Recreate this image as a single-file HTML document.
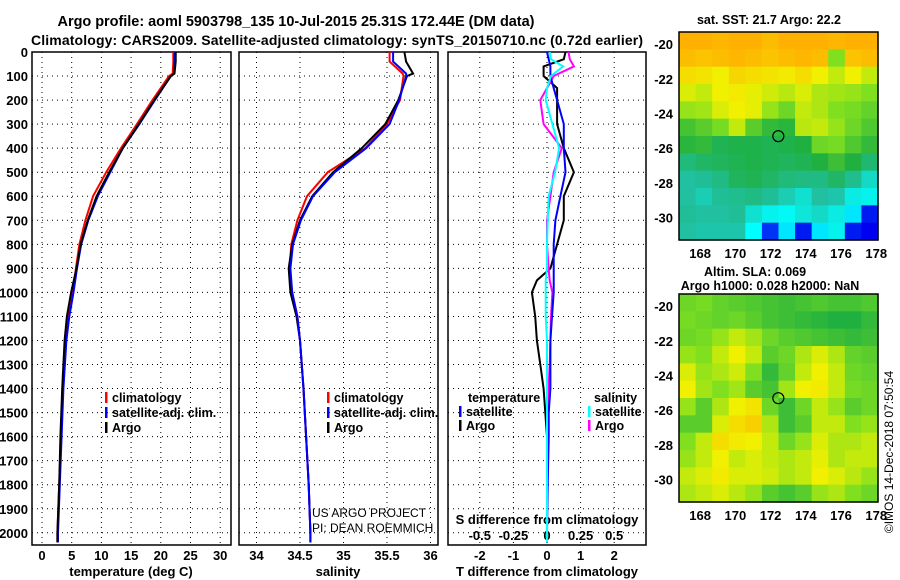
<!DOCTYPE html>
<html><head><meta charset="utf-8"><style>
body{margin:0;background:#fff}
svg{display:block;font-family:"Liberation Sans",sans-serif;font-weight:bold}
</style></head><body>
<svg id="c" width="900" height="580" viewBox="0 0 900 580">
<text x="296" y="26" font-size="14.5" text-anchor="middle" textLength="477">Argo profile: aoml 5903798_135 10-Jul-2015 25.31S 172.44E (DM data)</text>
<text x="337" y="45" font-size="14" text-anchor="middle" textLength="612">Climatology: CARS2009. Satellite-adjusted climatology: synTS_20150710.nc (0.72d earlier)</text>
<g id="g"></g>
</svg>
<script>
// ---- data ----
const depthTicks=[0,100,200,300,400,500,600,700,800,900,1000,1100,1200,1300,1400,1500,1600,1700,1800,1900,2000];
const tempTicks=[0,5,10,15,20,25,30];
const salTicks=[34,34.5,35,35.5,36];
const salTickLabels=["34","34.5","35","35.5","36"];
const tdTicks=[-2,-1,0,1,2];
const sdTicks=[-0.5,-0.25,0,0.25,0.5];
const sdTickLabels=["-0.5","-0.25","0","0.25","0.5"];
const profDepth=[0,40,90,100,200,300,400,500,600,700,800,900,1000,1100,1200,1400,1600,1800,2000,2040];
const tempArgo=[22.5,22.5,22.3,21.7,18.9,16.3,13.6,11.3,9.2,7.7,6.5,5.8,4.9,4.2,3.8,3.4,3.1,2.9,2.6,2.6];
const tempClim=[22.1,22.1,22.0,21.4,18.6,16.0,13.3,10.8,8.6,7.3,6.3,5.7,5.2,4.5,4.0,3.5,3.2,2.9,2.6,2.6];
const tempSat=[22.3,22.3,22.2,21.7,19.0,16.4,13.6,11.5,9.4,7.8,6.6,5.9,5.3,4.6,4.1,3.6,3.3,3.0,2.7,2.7];
const salArgo=[35.70,35.72,35.80,35.73,35.63,35.48,35.21,34.88,34.64,34.50,34.41,34.37,34.39,34.46,34.50,34.54,34.57,34.60,34.62,34.62];
const salClim=[35.53,35.53,35.68,35.69,35.65,35.50,35.25,34.82,34.58,34.47,34.40,34.38,34.41,34.47,34.50,34.54,34.57,34.60,34.62,34.62];
const salSat=[35.57,35.57,35.72,35.72,35.64,35.53,35.26,34.90,34.65,34.51,34.42,34.39,34.41,34.47,34.50,34.54,34.57,34.60,34.62,34.62];
const diffDepth=[0,30,60,100,150,200,300,400,500,600,700,800,900,950,1000,1100,1200,1300,1400,1500,1600,1800,2000,2040];
const tdArgo=[0.55,0.5,-0.1,-0.1,0.3,0.3,0.3,0.5,0.8,0.5,0.5,0.3,0.1,-0.3,-0.45,-0.35,-0.3,-0.2,-0.1,-0.05,0,null,null,null];
const tdSat=[0,0.05,0.1,0.1,0.2,0.3,0.5,0.5,0.55,0.4,0.25,0.2,0.2,0.2,0.2,0.15,0.1,0.1,0.1,0.05,0.05,0.02,0,0];
const sdArgo=[0.16,0.17,0.2,0.05,0.0,-0.05,-0.025,0.11,0.05,0.025,0.0,0.0,0.012,0.02,0.04,0.03,0.025,0.02,0.012,0.005,0,0,0,0];
const sdSat=[0.02,0.03,0.12,0.03,0.0,-0.01,0.04,0.09,0.06,0.012,0.005,0,0,-0.01,-0.01,-0.01,0,0,0,0,0,0,0,0];
const latTicks=[-20,-22,-24,-26,-28,-30];
const lonTicks=[168,170,172,174,176,178];
const argoLon=172.44, argoLat=-25.31;
const sstGrid=[
[6,6,5.9,6,6,5.8,6,6,6,5.9,6,6],
[5.8,5.7,5.8,5.9,5.8,5.7,5.8,5.9,5.8,4,5.7,5.8],
[5.3,5.2,5,5.4,5.3,5.2,5.1,5.3,5,4.6,5,4.6],
[4.8,4.6,5,5.1,4.9,4.7,4.5,4.8,4.4,4.3,4.2,4],
[4.2,4.3,4.8,5,4.9,4.2,3.8,4.6,4.4,4,3.9,3.7],
[3.4,3.6,3.9,4.6,3.6,3.2,3.1,4.5,4.6,4.2,3.8,3.5],
[3.1,3.2,2.8,2.9,2.9,2.8,2.9,3,3.8,3.9,3.5,3.2],
[2.4,2.6,2.7,2.8,2.9,2.8,2.7,2.8,3,3.3,3,2.5],
[2.0,2.1,2.3,2.7,2.8,2.6,2.4,2.3,2.3,2.6,2.2,1.6],
[2.0,1.8,2.1,2.2,2.3,2.1,1.8,1.5,2.0,1.9,1.3,1.2],
[2.1,2.0,2.0,2.1,1.5,1.2,1.1,1.4,1.6,1.3,0.9,0.1],
[2.0,1.9,1.9,1.9,1.0,0.2,0.9,0.1,0.9,1.2,0.1,0]
];
const slaGrid=[
[3.8,3.9,3.7,3.6,3.5,3.4,3.3,3.4,3.5,3.4,3.4,3.5],
[3.9,3.8,3.7,3.8,3.6,3.4,3.3,3.2,3.1,3.0,3.0,3.2],
[3.8,3.9,4.2,4.6,4.3,3.8,3.6,3.5,3.4,3.3,3.2,3.3],
[4.2,4.0,4.6,5.0,4.6,3.6,3.8,4.4,4.8,4.4,3.7,3.6],
[4.8,4.2,4.4,4.7,4.0,3.2,3.7,4.6,5.0,4.6,3.8,3.7],
[5.0,4.3,4.0,4.3,3.6,3.4,4.3,5.0,5.1,4.6,3.9,3.8],
[4.2,3.6,4.4,5.0,5.2,3.8,3.3,3.8,4.6,4.2,3.6,3.8],
[3.6,3.6,4.8,5.3,5.5,4.4,3.3,3.6,4.6,4.6,4.0,4.2],
[4.0,4.6,5.3,5.1,5.0,4.6,3.8,4.2,4.8,4.4,4.4,4.6],
[4.2,4.6,5.0,4.6,4.8,4.6,4.4,4.6,4.9,4.4,4.6,4.6],
[4.6,4.8,5.1,4.8,4.8,4.7,4.4,4.6,5.0,4.8,4.5,4.2],
[4.4,4.6,4.8,4.5,4.2,3.6,3.4,3.6,4.2,4.4,4.0,3.8]
];
// ---- drawing ----
const NS='http://www.w3.org/2000/svg';
const G=document.getElementById('g');
function el(t,a,p){const e=document.createElementNS(NS,t);for(const k in a)e.setAttribute(k,a[k]);(p||G).appendChild(e);return e;}
const Y0=52,PPD=0.2404,YB=545;
const yD=d=>Y0+d*PPD;
const xT=v=>42+v*5.94;
const xS=v=>256.5+(v-34)*87;
const xTD=v=>547+v*33.6;
const xSD=v=>547+v*134.4;
const panels=[[32,231],[239,438],[448,646]];
panels.forEach((p,i)=>{
  depthTicks.forEach(d=>{const l=el('line',{x1:p[0],x2:p[1],y1:yD(d),y2:yD(d),stroke:'#000','stroke-dasharray':'1,4'});});
  const r=el('rect',{x:p[0],y:Y0,width:p[1]-p[0],height:YB-Y0,fill:'none',stroke:'#000','stroke-width':1.5});
  
});
depthTicks.forEach(d=>{const t=el('text',{x:28,y:yD(d)+5,'font-size':13,'text-anchor':'end'});t.textContent=d;});
function vgrid(vals,fx,labels,ly){vals.forEach((v,i)=>{const x=fx(v);
  const l=el('line',{x1:x,x2:x,y1:Y0,y2:YB,stroke:'#000','stroke-dasharray':'1,4'});
  const t=el('text',{x:x,y:ly,'font-size':13,'text-anchor':'middle'});t.textContent=labels?labels[i]:v;});}
vgrid(tempTicks,xT,null,560);vgrid(salTicks,xS,salTickLabels,560);vgrid(tdTicks,xTD,null,560);
sdTicks.forEach((v,i)=>{const t=el('text',{x:xSD(v),y:540,'font-size':13,'text-anchor':'middle'});t.textContent=sdTickLabels[i];});
[['temperature (deg C)',131],['salinity',338],['T difference from climatology',547]].forEach(a=>{const t=el('text',{x:a[1],y:576,'font-size':13,'text-anchor':'middle'});t.textContent=a[0];});
{const t=el('text',{x:547,y:524,'font-size':13,'text-anchor':'middle'});t.textContent='S difference from climatology';}
function line(dep,vals,fx,col,name){const pts=[];dep.forEach((d,i)=>{if(vals[i]!==null)pts.push(fx(vals[i]).toFixed(1)+','+yD(d).toFixed(1));});
  const p=el('polyline',{points:pts.join(' '),fill:'none',stroke:col,'stroke-width':2});}
line(profDepth,tempClim,xT,'#f00','temp-climatology-line');
line(profDepth,tempSat,xT,'#00f','temp-satellite-line');
line(profDepth,tempArgo,xT,'#000','temp-argo-line');
line(profDepth,salClim,xS,'#f00','sal-climatology-line');
line(profDepth,salArgo,xS,'#000','sal-argo-line');
line(profDepth,salSat,xS,'#00f','sal-satellite-line');
line(diffDepth,tdArgo,xTD,'#000','tdiff-argo-line');
line(diffDepth,sdArgo,xSD,'#f0f','sdiff-argo-line');
line(diffDepth,tdSat,xTD,'#00f','tdiff-satellite-line');
line(diffDepth,sdSat,xSD,'#0ff','sdiff-satellite-line');
function leg(x,y,col,txt,name){if(col){const m=el('rect',{x:x,y:y-10,width:2.5,height:11,fill:col});}
  const t=el('text',{x:x+(col?7:0),y:y,'font-size':12.5});t.textContent=txt;}
[[105],[327]].forEach((a,i)=>{const x=a[0];leg(x,402,'#f00','climatology','legend-climatology');leg(x,417,'#00f','satellite-adj. clim.','legend-satellite');leg(x,432,'#000','Argo','legend-argo');});
leg(468,402,null,'temperature','legend-temperature-heading');leg(459,416,'#00f','satellite','legend-t-satellite');leg(459,430,'#000','Argo','legend-t-argo');
leg(594,402,null,'salinity','legend-salinity-heading');leg(588,416,'#0ff','satellite','legend-s-satellite');leg(588,430,'#f0f','Argo','legend-s-argo');
[['US ARGO PROJECT',517],['PI: DEAN ROEMMICH',532]].forEach(a=>{const t=el('text',{x:312,y:a[1],'font-size':12,'font-weight':'normal'});t.textContent=a[0];});
// maps
const stops=[[0,0,240],[0,255,255],[32,192,160],[32,176,64],[128,224,32],[240,240,0],[255,176,0]];
function col(v){v=Math.max(0,Math.min(6,v));const i=Math.min(5,Math.floor(v)),f=v-i,a=stops[i],b=stops[i+1];return 'rgb('+a.map((c,k)=>Math.round(c+(b[k]-c)*f)).join(',')+')';}
const LON0=166.8,LON1=178.1,LAT0=-19.3,LAT1=-31.3;
function map(top,grid,name){const L=679,R=878,T=top,B=top+208;
  const xL=lo=>L+(lo-LON0)/(LON1-LON0)*(R-L), yL=la=>T+(la-LAT0)/(LAT1-LAT0)*(B-T);
  const nr=grid.length,nc=grid[0].length,cw=(R-L)/nc,ch=(B-T)/nr;
  grid.forEach((row,r)=>row.forEach((v,c)=>{const e=el('rect',{x:L+c*cw,y:T+r*ch,width:cw+0.6,height:ch+0.6,fill:col(v)});}));
  const f=el('rect',{x:L,y:T,width:R-L,height:B-T,fill:'none',stroke:'#000','stroke-width':1.5});
  latTicks.forEach(la=>{const t=el('text',{x:673,y:yL(la)+5,'font-size':13,'text-anchor':'end'});t.textContent=la;});
  lonTicks.forEach(lo=>{const t=el('text',{x:xL(lo),y:B+18,'font-size':13,'text-anchor':'middle'});t.textContent=lo;});
  const c=el('circle',{cx:xL(argoLon),cy:yL(argoLat),r:5.5,fill:'none',stroke:'#000','stroke-width':1.2});
}
map(32,sstGrid,'sst-map');map(294,slaGrid,'sla-map');
[['sat. SST: 21.7 Argo: 22.2',769,24],['Altim. SLA: 0.069',755,276],['Argo h1000: 0.028 h2000: NaN',770,290]].forEach(a=>{const t=el('text',{x:a[1],y:a[2],'font-size':12.5,'text-anchor':'middle'});t.textContent=a[0];});
{const t=el('text',{x:0,y:0,'font-size':12,'font-weight':'normal','text-anchor':'middle',transform:'translate(893,452) rotate(-90)'});t.textContent='©IMOS 14-Dec-2018 07:50:54';}
</script>
</body></html>
